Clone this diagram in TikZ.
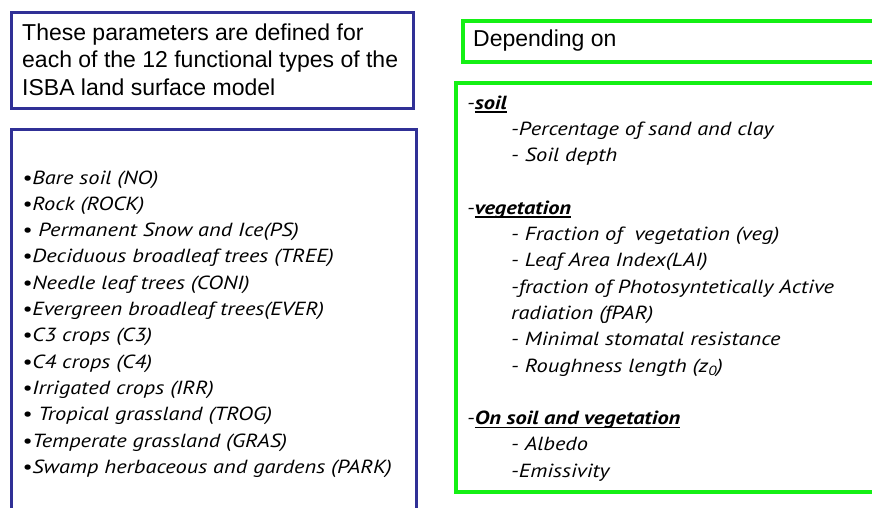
\documentclass[tikz,border=0pt]{standalone}
\usepackage{fontspec}
\setmainfont{Liberation Sans}
\newfontfamily\listfont[FakeStretch=1.18]{PT Sans}
\definecolor{boxblue}{RGB}{48,48,150}
\definecolor{boxgreen}{RGB}{20,240,20}
% underlined heading, the rule sits under the word only
\newcommand\hdr[1]{\setbox0\hbox{\bfseries #1}\rlap{\rule[-3.5pt]{\wd0}{1.6pt}}\box0}
\tikzset{
  bluebox/.style={draw=boxblue,line width=3pt,anchor=north west,inner sep=0pt},
  greenbox/.style={draw=boxgreen,line width=3.5pt,anchor=north west,inner sep=0pt},
  head/.style={anchor=base west,inner sep=0pt,font=\fontsize{23}{27}\selectfont},
  item/.style={anchor=base west,inner sep=0pt,font=\listfont\itshape\fontsize{19}{26}\selectfont}
}

\begin{document}
\begin{tikzpicture}[x=1pt,y=-1pt]
\useasboundingbox (0,0) rectangle (872,507);
\clip (0,0) rectangle (872,507);

% left column
\node[bluebox,minimum width=402pt,minimum height=96pt] (T) at (10,11) {};
\foreach \i/\txt in
    {0/These parameters are defined for,
     1/each of the 12 functional types of the,
     2/ISBA land surface model}
  \node[head] (T\i) at (22,40+27.5*\i) {\txt};

\node[bluebox,minimum width=405pt,minimum height=400pt] (L) at (10,128) {};
\foreach \i/\txt in
    {0/•Bare soil (NO),
     1/•Rock (ROCK),
     2/• Permanent Snow and Ice(PS),
     3/•Deciduous broadleaf trees (TREE),
     4/•Needle leaf trees (CONI),
     5/•Evergreen broadleaf trees(EVER),
     6/•C3 crops (C3),
     7/•C4 crops (C4),
     8/•Irrigated crops (IRR),
     9/• Tropical grassland (TROG),
     10/•Temperate grassland (GRAS),
     11/•Swamp herbaceous and gardens (PARK)}
  \node[item] (L\i) at (22,184+26.3*\i) {\txt};

% right column
\node[greenbox,minimum width=450pt,minimum height=41pt] (D) at (461,19) {};
\node[head] (D0) at (473,46.5) {Depending on};

\node[greenbox,minimum width=450pt,minimum height=409pt] (R) at (454,81) {};
\foreach \k/\x/\txt in
    {0/467/-\hdr{soil},
     1/511/-Percentage of sand and clay,
     2/511/- Soil depth,
     4/467/-\hdr{vegetation},
     5/511/- Fraction of\ \ vegetation (veg),
     6/511/- Leaf Area Index(LAI),
     7/511/-fraction of Photosyntetically Active,
     8/511/radiation (fPAR),
     9/511/- Minimal stomatal resistance,
     10/511/- Roughness length (z\textsubscript{0}),
     12/467/-\hdr{On soil and vegetation},
     13/511/- Albedo,
     14/511/-Emissivity}
  \node[item] (R\k) at (\x,109+26.3*\k) {\txt};
\end{tikzpicture}
\end{document}
